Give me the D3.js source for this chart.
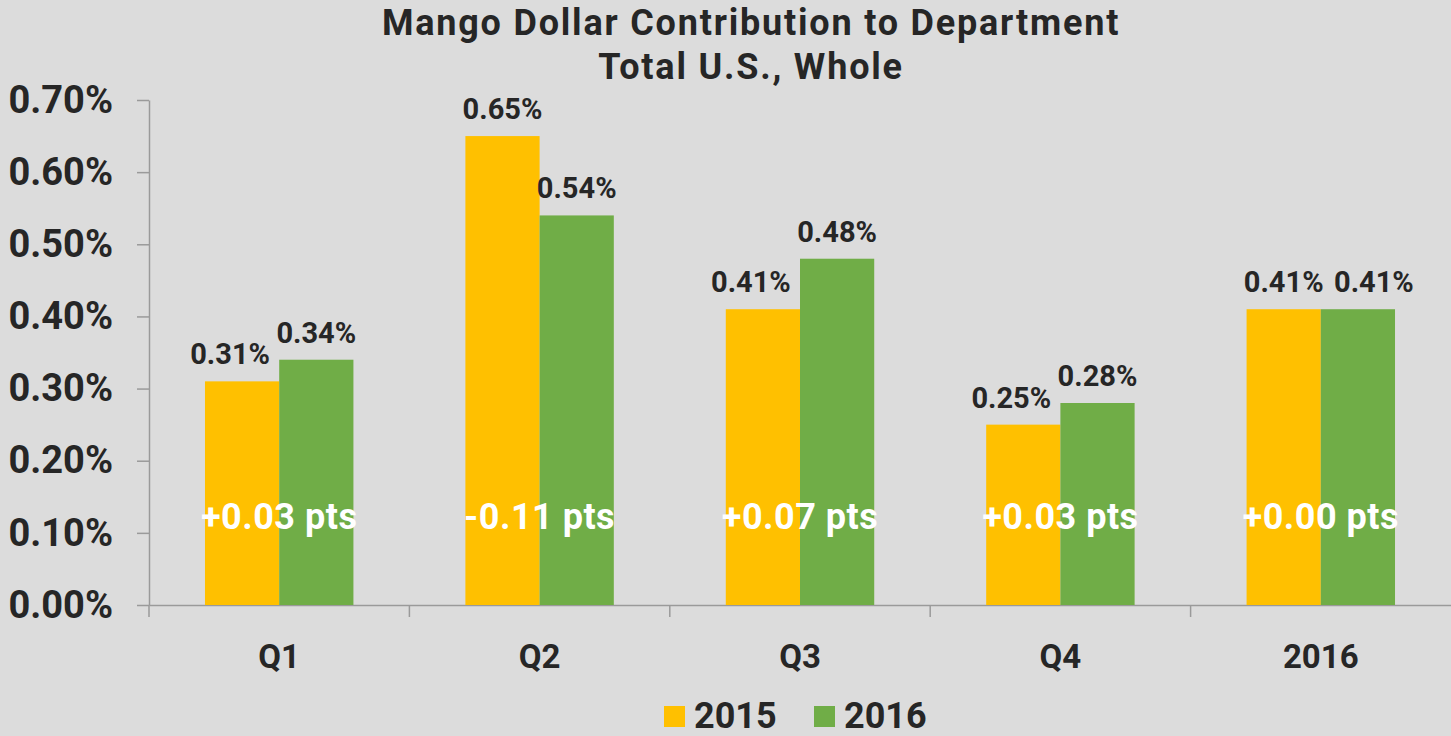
<!DOCTYPE html>
<html lang="en">
<head>
    <meta charset="UTF-8">
    <title>Mango Dollar Contribution to Department</title>
    <script src="https://cdn.jsdelivr.net/npm/d3@7"></script>
    <style>
        body {
            margin: 0;
            padding: 0;
            background-color: #dcdcdc;
            font-family: Roboto, "Liberation Sans", sans-serif;
        }

        #chart {
            display: block;
        }

        .tick text {
            fill: #262626;
            font-weight: bold;
        }
    </style>
</head>
<body>
    <svg id="chart" width="1451" height="736"></svg>

    <script>
        // chart data
        const categories = ["Q1", "Q2", "Q3", "Q4", "2016"];
        const seriesNames = ["2015", "2016"];
        const values2015 = [0.31, 0.65, 0.41, 0.25, 0.41];
        const values2016 = [0.34, 0.54, 0.48, 0.28, 0.41];
        const yTicks = [0, 0.1, 0.2, 0.3, 0.4, 0.5, 0.6, 0.7];
        const colors = ["#ffc000", "#70ad47"];

        const width = 1451, height = 736;
        const margin = { top: 100, right: 0, bottom: 131, left: 149 };
        const svg = d3.select("#chart");

        const rows = categories.map((c, i) => ({
            cat: c,
            vals: [values2015[i], values2016[i]]
        }));

        const x0 = d3.scaleBand()
            .domain(categories)
            .range([margin.left, width - margin.right]);

        const bw = x0.bandwidth();
        const x1 = d3.scaleBand()
            .domain(seriesNames)
            .range([bw * 0.215, bw * 0.785]);

        const y = d3.scaleLinear()
            .domain([0, 0.7])
            .range([height - margin.bottom, margin.top]);

        const textColor = "#262626";
        const axisColor = "#9a9a9a";

        // title
        const title = svg.append("text")
            .attr("text-anchor", "middle")
            .attr("fill", textColor)
            .attr("font-weight", "bold")
            .attr("font-size", 36)
            .attr("letter-spacing", 1.8);
        title.append("tspan").attr("x", 751).attr("y", 35).text("Mango Dollar Contribution to Department");
        title.append("tspan").attr("x", 751).attr("y", 79).text("Total U.S., Whole");

        // y axis
        const yAxis = svg.append("g")
            .attr("transform", `translate(${margin.left},0)`)
            .call(d3.axisLeft(y)
                .tickValues(yTicks)
                .tickFormat(d => d.toFixed(2) + "%")
                .tickSize(12)
                .tickSizeOuter(0)
                .tickPadding(24));
        yAxis.selectAll("text").attr("font-size", 38).attr("font-family", "Roboto, sans-serif");
        yAxis.selectAll("line, path").attr("stroke", axisColor).attr("stroke-width", 1.5);

        // x axis
        const xAxis = svg.append("g")
            .attr("transform", `translate(0,${y(0)})`)
            .call(d3.axisBottom(x0)
                .tickSize(0)
                .tickSizeOuter(0)
                .tickPadding(40));
        xAxis.select(".domain").attr("stroke", axisColor).attr("stroke-width", 1.5);
        xAxis.selectAll("text").attr("font-size", 33).attr("font-family", "Roboto, sans-serif");

        // category boundary ticks
        svg.append("g").selectAll("line")
            .data(categories)
            .join("line")
            .attr("x1", d => x0(d))
            .attr("x2", d => x0(d))
            .attr("y1", y(0))
            .attr("y2", y(0) + 12)
            .attr("stroke", axisColor)
            .attr("stroke-width", 1.5);

        // bars
        const groups = svg.append("g").selectAll("g")
            .data(rows)
            .join("g")
            .attr("transform", d => `translate(${x0(d.cat)},0)`);

        groups.selectAll("rect")
            .data(d => d.vals.map((v, i) => ({ key: seriesNames[i], v, i, pair: d.vals })))
            .join("rect")
            .attr("x", d => x1(d.key))
            .attr("y", d => y(d.v))
            .attr("width", x1.bandwidth())
            .attr("height", d => y(0) - y(d.v))
            .attr("fill", d => colors[d.i]);

        // value labels, pushed apart a little where they would touch
        function labelShift(d) {
            const [a, b] = d.pair;
            if (a === b) return d.i === 1 ? 16 : 0;
            if (a < b && d.i === 0) return -12;
            return 0;
        }
        groups.selectAll("text.val")
            .data(d => d.vals.map((v, i) => ({ key: seriesNames[i], v, i, pair: d.vals })))
            .join("text")
            .attr("class", "val")
            .attr("x", d => x1(d.key) + x1.bandwidth() / 2 + labelShift(d))
            .attr("y", d => y(d.v) - 17)
            .attr("text-anchor", "middle")
            .attr("fill", textColor)
            .attr("font-weight", "bold")
            .attr("font-size", 29)
            .text(d => d.v.toFixed(2) + "%");

        // change labels
        const fmtDiff = d3.format("+.2f");
        groups.append("text")
            .attr("x", bw / 2)
            .attr("y", y(0.1) - 4)
            .attr("text-anchor", "middle")
            .attr("fill", "#ffffff")
            .attr("font-weight", "bold")
            .attr("font-size", 36)
            .attr("letter-spacing", 0.5)
            .text(d => fmtDiff(d.vals[1] - d.vals[0]).replace("\u2212", "-") + " pts");

        // legend
        const legend = svg.append("g")
            .attr("transform", "translate(664,706)");
        const items = legend.selectAll("g")
            .data(seriesNames)
            .join("g")
            .attr("transform", (d, i) => `translate(${i * 150},0)`);
        items.append("rect")
            .attr("width", 21)
            .attr("height", 21)
            .attr("fill", (d, i) => colors[i]);
        items.append("text")
            .attr("x", 30)
            .attr("y", 22)
            .attr("fill", textColor)
            .attr("font-weight", "bold")
            .attr("font-size", 36)
            .text(d => d);
    </script>
</body>
</html>
